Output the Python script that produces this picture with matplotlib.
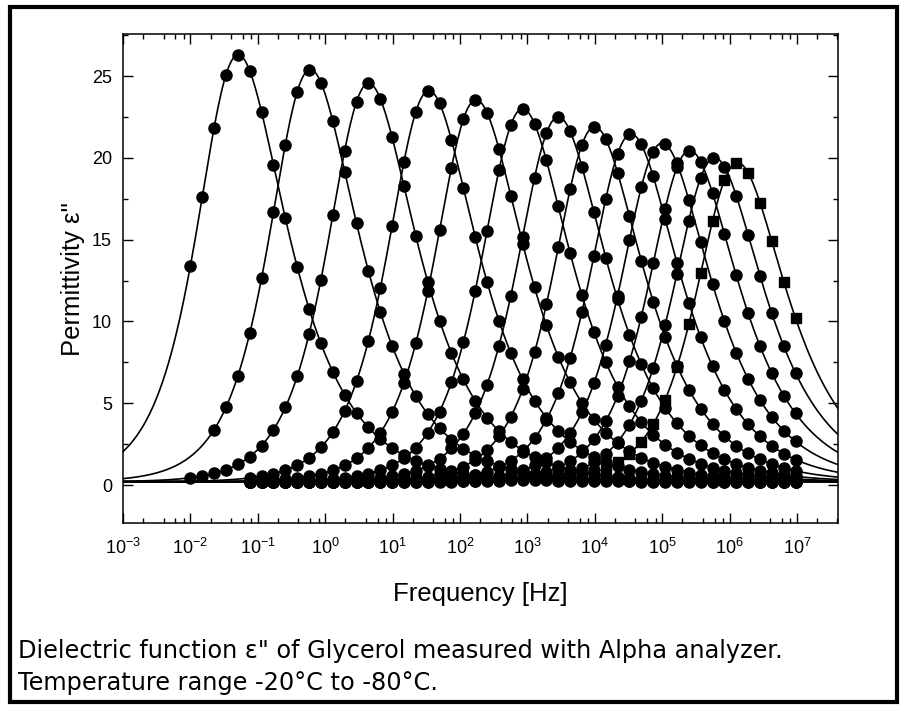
import numpy as np
import matplotlib
matplotlib.use('Agg')
import matplotlib.pyplot as plt
from matplotlib.patches import Rectangle
from matplotlib.ticker import LogLocator, MultipleLocator, NullFormatter

plt.rcParams['font.family'] = ['Liberation Sans', 'DejaVu Sans']
plt.rcParams['mathtext.default'] = 'regular'

# peak position / height of each loss curve
peak_freq_hz = [0.0513, 0.603, 4.42, 34.7, 174, 851, 2884, 1.0e4, 3.47e4, 1.0e5, 2.57e5, 6.03e5, 1.32e6]
peak_eps = [26.3, 25.4, 24.55, 24.1, 23.55, 23.0, 22.5, 21.9, 21.45, 20.9, 20.45, 20.0, 19.7]
markers = ['o'] * 12 + ['s']

# frequency sweep of the analyzer: 0.01 Hz .. 1e7 Hz, factor 1.5 per step
sweep_start_hz = 0.01
sweep_ratio = 1.5
sweep_steps = 52
first_step = [0, 2, 0, 5, 5, 5, 5, 5, 5, 5, 5, 5, 31]

# Havriliak-Negami shape of the fit lines
hn_alpha = 0.91
hn_beta = 0.65
baseline = 0.2


def hn_loss(f, f0):
    z = (1j * f / f0) ** hn_alpha
    return -np.imag(1.0 / (1.0 + z) ** hn_beta)


# peak position and height of the unit HN function
ref = np.logspace(-4, 4, 20001)
ref_loss = hn_loss(ref, 1.0)
ref_peak_f = ref[np.argmax(ref_loss)]
ref_peak_val = ref_loss.max()

sweep = sweep_start_hz * sweep_ratio ** np.arange(sweep_steps)
f_line = np.logspace(-3, 7.7, 800)

fig = plt.figure(figsize=(9.05, 7.09), dpi=100)
ax = fig.add_axes([123 / 905, 1 - 523 / 709, (838 - 123) / 905, (523 - 34) / 709])

for fp, ep, k0, m in zip(peak_freq_hz, peak_eps, first_step, markers):
    f0 = fp / ref_peak_f
    d_eps = (ep - baseline) / ref_peak_val
    ax.plot(f_line, baseline + d_eps * hn_loss(f_line, f0), color='black', lw=1.2, zorder=2)
    fs = sweep[k0:]
    ax.plot(fs, baseline + d_eps * hn_loss(fs, f0), linestyle='none', marker=m,
            color='black', ms=8 if m == 'o' else 7.5, zorder=3)

ax.set_xscale('log')
ax.set_xlim(1e-3, 10 ** 7.61)
ax.set_ylim(-2.32, 27.57)

ax.xaxis.set_major_locator(LogLocator(base=10, numticks=20))
ax.xaxis.set_minor_locator(LogLocator(base=10, subs=[2, 4, 6, 8], numticks=20))
ax.xaxis.set_minor_formatter(NullFormatter())
ax.yaxis.set_major_locator(MultipleLocator(5))
ax.yaxis.set_minor_locator(MultipleLocator(2.5))

ax.tick_params(which='both', direction='in', top=True, right=True, width=1, labelsize=13)
ax.tick_params(which='major', length=7)
ax.tick_params(which='minor', length=3.5)
ax.tick_params(axis='y', pad=8)
ax.tick_params(axis='x', pad=11)
ax.set_yticks([0, 5, 10, 15, 20, 25])
for s in ax.spines.values():
    s.set_linewidth(1.1)

ax.set_xlabel('Frequency [Hz]', fontsize=18.5, labelpad=17)
ax.set_ylabel("Permittivity ε''", fontsize=18.5, labelpad=5)

cap_font = ['DejaVu Sans']
fig.text(18 / 905, 1 - 651 / 709, 'Dielectric function ε" of Glycerol measured with Alpha analyzer.',
         fontsize=17.3, va='center', ha='left', family=cap_font)
fig.text(18 / 905, 1 - 683 / 709, 'Temperature range -20°C to -80°C.',
         fontsize=17.3, va='center', ha='left', family=cap_font)

fig.patches.append(Rectangle((10 / 905, 1 - 702 / 709), 887 / 905, 695 / 709,
                             transform=fig.transFigure, fill=False, lw=3, edgecolor='black'))

fig.savefig('out.png', dpi=100)
